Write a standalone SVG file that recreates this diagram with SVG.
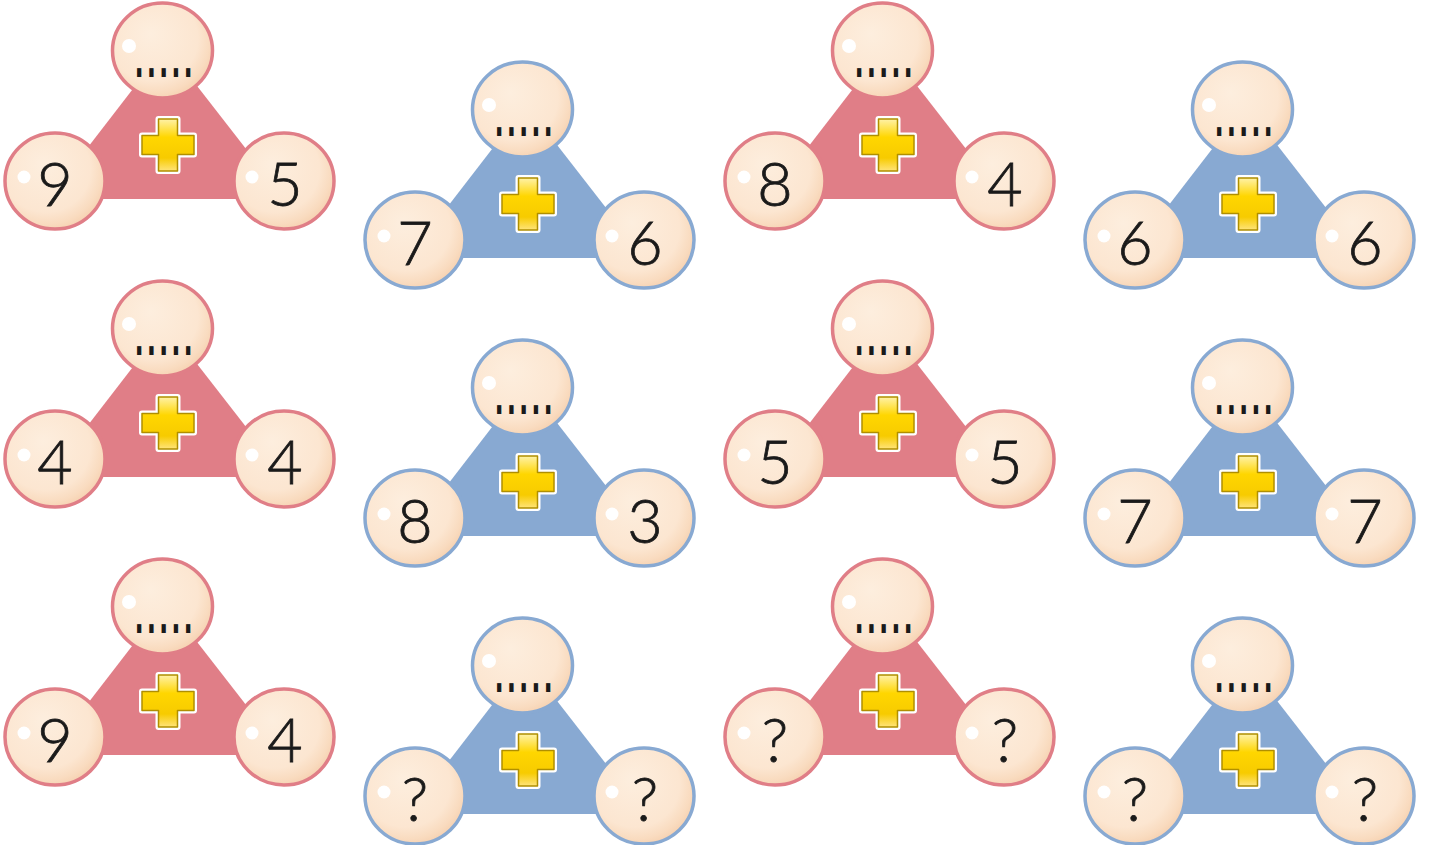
<svg xmlns="http://www.w3.org/2000/svg" xmlns:xlink="http://www.w3.org/1999/xlink" width="1432" height="845" viewBox="0 0 1432 845">
<style>
.red{fill:#E07E87;stroke:#E07E87}
.blue{fill:#88A9D2;stroke:#88A9D2}
.num{font-family:Lato,"Open Sans","Liberation Sans",sans-serif;font-weight:300;font-size:61px;fill:#1a1a1a;text-anchor:middle;stroke:#1a1a1a;stroke-width:0.8px}
.dots{font-family:"Liberation Sans",Arial,sans-serif;font-weight:bold;font-size:30px;letter-spacing:3.9px;fill:#1a1a1a}
</style>
<defs>
<radialGradient id="ball" cx="0.42" cy="0.4" r="0.62" fx="0.38" fy="0.32">
<stop offset="0" stop-color="#FDEEDE"/>
<stop offset="0.72" stop-color="#FCE6D1"/>
<stop offset="0.9" stop-color="#F9DBBF"/>
<stop offset="1" stop-color="#F6D2B2"/>
</radialGradient>
<linearGradient id="plusg" x1="0" y1="0" x2="0" y2="1">
<stop offset="0" stop-color="#FFF2A8"/>
<stop offset="0.35" stop-color="#FFD600"/>
<stop offset="0.75" stop-color="#F7CB00"/>
<stop offset="1" stop-color="#FFE47A"/>
</linearGradient>
<path id="plusShape" d="M-9.5,-26 H9.5 V-9.5 H26 V9.5 H9.5 V26 H-9.5 V9.5 H-26 V-9.5 H-9.5 Z"/>
<g id="plus">
<use href="#plusShape" fill="#FFFFFF" stroke="#FFFFFF" stroke-width="6" stroke-linejoin="round"/>
<use href="#plusShape" fill="url(#plusg)" stroke="#B08F00" stroke-width="1.5" stroke-linejoin="round"/>
</g>
<g id="frame">
<path d="M166 46 L48 199 L285 199 Z" stroke="none"/>
<use href="#plus" x="168" y="145"/>
<ellipse cx="162.5" cy="50.5" rx="50" ry="47.5" fill="url(#ball)" stroke-width="3.5"/>
<ellipse cx="55" cy="181" rx="50" ry="48" fill="url(#ball)" stroke-width="3.5"/>
<ellipse cx="284" cy="181" rx="50" ry="48" fill="url(#ball)" stroke-width="3.5"/>
<circle cx="129" cy="46" r="7" fill="#FFFFFF" stroke="none"/>
<circle cx="24" cy="177" r="6.5" fill="#FFFFFF" stroke="none"/>
<circle cx="252" cy="177" r="6.5" fill="#FFFFFF" stroke="none"/>
</g>
</defs>
<rect width="1432" height="845" fill="#FFFFFF"/>

<g id="tri-1" transform="translate(0,0)">
<use href="#frame" class="red"/>
<text class="dots" transform="translate(135,77) scale(1,2)">.....</text>
<text class="num" x="55" y="206">9</text>
<text class="num" x="285" y="206">5</text>
</g>

<g id="tri-2" transform="translate(360,59)">
<use href="#frame" class="blue"/>
<text class="dots" transform="translate(135,77) scale(1,2)">.....</text>
<text class="num" x="55" y="206">7</text>
<text class="num" x="285" y="206">6</text>
</g>

<g id="tri-3" transform="translate(720,0)">
<use href="#frame" class="red"/>
<text class="dots" transform="translate(135,77) scale(1,2)">.....</text>
<text class="num" x="55" y="206">8</text>
<text class="num" x="285" y="206">4</text>
</g>

<g id="tri-4" transform="translate(1080,59)">
<use href="#frame" class="blue"/>
<text class="dots" transform="translate(135,77) scale(1,2)">.....</text>
<text class="num" x="55" y="206">6</text>
<text class="num" x="285" y="206">6</text>
</g>

<g id="tri-5" transform="translate(0,278)">
<use href="#frame" class="red"/>
<text class="dots" transform="translate(135,77) scale(1,2)">.....</text>
<text class="num" x="55" y="206">4</text>
<text class="num" x="285" y="206">4</text>
</g>

<g id="tri-6" transform="translate(360,337)">
<use href="#frame" class="blue"/>
<text class="dots" transform="translate(135,77) scale(1,2)">.....</text>
<text class="num" x="55" y="206">8</text>
<text class="num" x="285" y="206">3</text>
</g>

<g id="tri-7" transform="translate(720,278)">
<use href="#frame" class="red"/>
<text class="dots" transform="translate(135,77) scale(1,2)">.....</text>
<text class="num" x="55" y="206">5</text>
<text class="num" x="285" y="206">5</text>
</g>

<g id="tri-8" transform="translate(1080,337)">
<use href="#frame" class="blue"/>
<text class="dots" transform="translate(135,77) scale(1,2)">.....</text>
<text class="num" x="55" y="206">7</text>
<text class="num" x="285" y="206">7</text>
</g>

<g id="tri-9" transform="translate(0,556)">
<use href="#frame" class="red"/>
<text class="dots" transform="translate(135,77) scale(1,2)">.....</text>
<text class="num" x="55" y="206">9</text>
<text class="num" x="285" y="206">4</text>
</g>

<g id="tri-10" transform="translate(360,615)">
<use href="#frame" class="blue"/>
<text class="dots" transform="translate(135,77) scale(1,2)">.....</text>
<text class="num" x="55" y="206">?</text>
<text class="num" x="285" y="206">?</text>
</g>

<g id="tri-11" transform="translate(720,556)">
<use href="#frame" class="red"/>
<text class="dots" transform="translate(135,77) scale(1,2)">.....</text>
<text class="num" x="55" y="206">?</text>
<text class="num" x="285" y="206">?</text>
</g>

<g id="tri-12" transform="translate(1080,615)">
<use href="#frame" class="blue"/>
<text class="dots" transform="translate(135,77) scale(1,2)">.....</text>
<text class="num" x="55" y="206">?</text>
<text class="num" x="285" y="206">?</text>
</g>
</svg>
